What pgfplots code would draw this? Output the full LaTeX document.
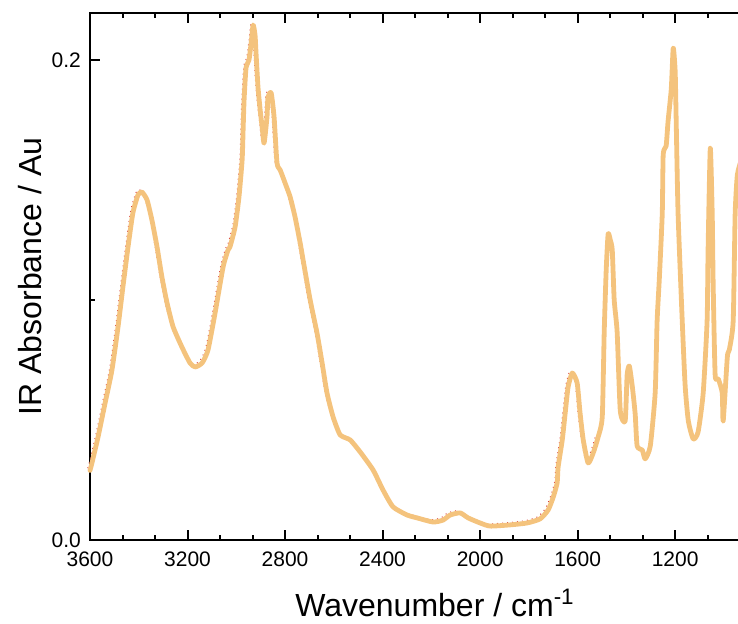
\documentclass[border=0pt]{standalone}
\usepackage{fontspec}
\setmainfont{Liberation Sans}
\usepackage{pgfplots}
\pgfplotsset{compat=1.18}
\usepackage{pgfplotstable}
\definecolor{specorange}{RGB}{244,195,125}
\definecolor{specred}{RGB}{215,60,60}
\pgfplotstableread{
wn A
3600 0.029
3592 0.0321
3567 0.0429
3538 0.0571
3510 0.0708
3485 0.0888
3465 0.1054
3444 0.1221
3424 0.1363
3403 0.1438
3387 0.1450
3366 0.1417
3346 0.1333
3325 0.1221
3305 0.1096
3284 0.0988
3259 0.0888
3223 0.0804
3190 0.0738
3169 0.0721
3140 0.0738
3116 0.0792
3087 0.0946
3054 0.1138
3034 0.1208
3026 0.1221
3005 0.1304
2989 0.1429
2976 0.1583
2972 0.1708
2968 0.1833
2960 0.1967
2948 0.2000
2939 0.2071
2931 0.2146
2923 0.2104
2919 0.2029
2911 0.1888
2902 0.1792
2894 0.1721
2886 0.1654
2874 0.1763
2870 0.1846
2857 0.1863
2845 0.1763
2833 0.1571
2820 0.1542
2800 0.1488
2779 0.1429
2759 0.1346
2738 0.1238
2726 0.1167
2697 0.1000
2669 0.0863
2648 0.0738
2628 0.0613
2603 0.0513
2574 0.0438
2533 0.0417
2492 0.0367
2439 0.0292
2398 0.0208
2357 0.0138
2299 0.0104
2258 0.0092
2193 0.0075
2152 0.0083
2123 0.0104
2082 0.0113
2049 0.0092
2000 0.0071
1959 0.0058
1877 0.0063
1807 0.0071
1754 0.0088
1721 0.0125
1700 0.0179
1684 0.0238
1680 0.0304
1663 0.0417
1651 0.0529
1639 0.0638
1622 0.0696
1602 0.0654
1590 0.0529
1577 0.0417
1557 0.0321
1536 0.0363
1516 0.0429
1499 0.0513
1491 0.0867
1483 0.1121
1475 0.1275
1466 0.1250
1458 0.1208
1450 0.1000
1438 0.0867
1425 0.0538
1405 0.0496
1397 0.0688
1388 0.0725
1376 0.0642
1364 0.0525
1356 0.0392
1335 0.0375
1323 0.0338
1302 0.0392
1282 0.0613
1274 0.0913
1265 0.1088
1253 0.1358
1249 0.1608
1237 0.1642
1229 0.1746
1216 0.1879
1208 0.2050
1200 0.1954
1196 0.1758
1188 0.1358
1171 0.0913
1159 0.0642
1146 0.0496
1126 0.0421
1106 0.0450
1085 0.0613
1069 0.0913
1065 0.1208
1056 0.1633
1048 0.1358
1044 0.1058
1036 0.0688
1023 0.0671
1007 0.0613
1003 0.0496
986 0.0763
978 0.0792
962 0.0913
954 0.1358
945 0.1521
930 0.1580
}\spectrum
\tikzset{tk/.style={black, line width=1pt}}
\begin{document}
\begin{tikzpicture}
\begin{axis}[
  name=ax,
  at={(0,0)}, anchor=south west,
  scale only axis,
  width=325.5pt, height=263.5pt,
  x dir=reverse,
  xmin=930, xmax=3600,
  ymin=0, ymax=0.2196,
  xtick={3600,3200,2800,2400,2000,1600,1200},
  ytick={0,0.2},
  tickwidth=0pt,
  subtickwidth=0pt,
  axis line style={line width=1pt},
  /pgf/number format/assume math mode=true,
  xticklabel style={font=\fontsize{10.5}{12}\selectfont, yshift=-2.5pt},
  x tick label style={/pgf/number format/1000 sep={}},
  yticklabel style={font=\fontsize{10.5}{12}\selectfont, xshift=-1pt},
  y tick label style={/pgf/number format/fixed, /pgf/number format/fixed zerofill, /pgf/number format/precision=1},
  scaled y ticks=false,
  xlabel={Wavenumber / cm\textsuperscript{-1}},
  ylabel={IR Absorbance / Au},
  xlabel style={font=\fontsize{16}{18}\selectfont, at={(axis description cs:0.53,-0.146)}, anchor=base},
  ylabel style={font=\fontsize{16}{18}\selectfont, at={(axis description cs:-0.092,0.5)}, anchor=center, rotate=0},
  clip=false,
]
\addplot[specred, line width=0.5pt, dotted, smooth, tension=0.35, xshift=-1.1pt, yshift=1.1pt, restrict x to domain=1500:3600] table[x=wn, y=A] {\spectrum};
\addplot[specorange, line width=2.4pt, line join=round, line cap=round, smooth, tension=0.35] table[x=wn, y=A] {\spectrum};
\end{axis}
% tick marks (axis frame spans 0..325.5pt by 0..263.5pt)
\foreach \x in {48.76,97.53,146.29,195.06,243.82,292.58} {
  \draw[tk] (\x pt,0pt) -- (\x pt,5pt);
  \draw[tk] (\x pt,263.5pt) -- (\x pt,258.5pt);
}
\foreach \x in {16.25,32.51,65.02,81.27,113.78,130.04,162.55,178.80,211.31,227.57,260.08,276.33,308.84} {
  \draw[tk] (\x pt,0pt) -- (\x pt,2.6pt);
  \draw[tk] (\x pt,263.5pt) -- (\x pt,260.9pt);
}
\draw[tk] (0pt,239.98pt) -- (5pt,239.98pt);
\draw[tk] (0pt,119.99pt) -- (2.6pt,119.99pt);
\pgfresetboundingbox
\useasboundingbox (-45pt,-41.5pt) rectangle (324pt,270pt);
\end{tikzpicture}
\end{document}
